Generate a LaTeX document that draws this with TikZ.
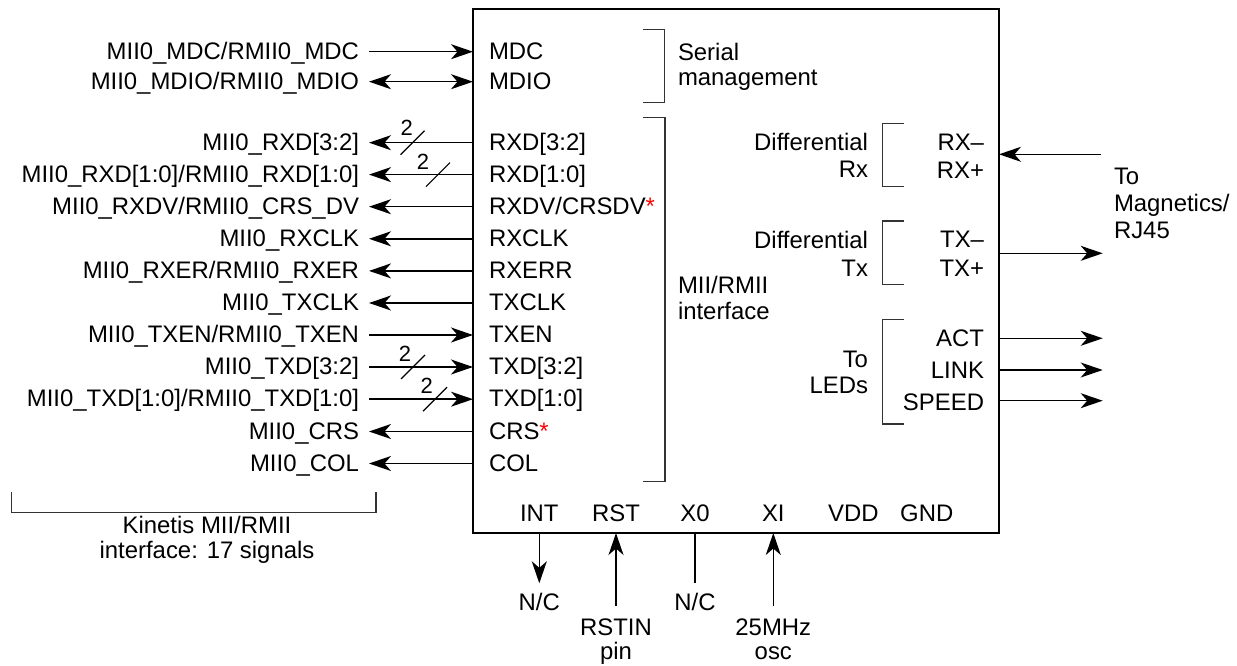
\documentclass[tikz,border=0pt]{standalone}
\usepackage{fontspec}
\setmainfont{Liberation Sans}
\usetikzlibrary{arrows.meta}
\begin{document}
\begin{tikzpicture}[x=1pt,y=-1pt,
  every node/.style={inner sep=0pt, outer sep=0pt},
  font=\fontsize{23.9}{26}\selectfont,
  >={Stealth[length=22pt,width=15pt,inset=6.5pt]},
  wire/.style={line width=1.5pt},
  brk/.style={line width=1.2pt, draw=black!80},
  lft/.style={anchor=east, text height=20pt, text depth=5pt},
  inr/.style={anchor=west, text height=20pt, text depth=5pt},
  bus/.style={line width=1.2pt},
  busn/.style={font=\fontsize{22}{24}\selectfont},
  ]
\useasboundingbox (0,0) rectangle (1237,666);
\node[draw, line width=2.6pt, minimum width=526pt, minimum height=524pt, anchor=north west] (chip) at (473,9) {};

% ---- left rows ----
\node[lft] (l1) at (359,51.7) {MII0\_MDC/RMII0\_MDC};
\node[inr] (i1) at (489,51.7) {MDC};
\draw[wire,->] ([xshift=10pt]l1.east) -- (chip.west |- l1.east);

\node[lft] (l2) at (359,81.7) {MII0\_MDIO/RMII0\_MDIO};
\node[inr] (i2) at (489,81.7) {MDIO};
\draw[wire,<->] ([xshift=10pt]l2.east) -- (chip.west |- l2.east);

\node[lft] (l3) at (359,142.7) {MII0\_RXD[3:2]};
\node[inr] (i3) at (489,142.7) {RXD[3:2]};
\draw[wire,<-] ([xshift=10pt]l3.east) -- (chip.west |- l3.east);
\draw[bus] (400.5,154.7) -- (424.5,130.7);
\node[busn] (n3) at (406.7,128.3) {2};

\node[lft] (l4) at (359,174.6) {MII0\_RXD[1:0]/RMII0\_RXD[1:0]};
\node[inr] (i4) at (489,174.6) {RXD[1:0]};
\draw[wire,<-] ([xshift=10pt]l4.east) -- (chip.west |- l4.east);
\draw[bus] (426,186.6) -- (450,162.6);
\node[busn] (n4) at (423,161.7) {2};

\node[lft] (l5) at (359,206.7) {MII0\_RXDV/RMII0\_CRS\_DV};
\node[inr] (i5) at (489,206.7) {RXDV/CRSDV{\color{red}*}};
\draw[wire,<-] ([xshift=10pt]l5.east) -- (chip.west |- l5.east);

\node[lft] (l6) at (359,238.8) {MII0\_RXCLK};
\node[inr] (i6) at (489,238.8) {RXCLK};
\draw[wire,<-] ([xshift=10pt]l6.east) -- (chip.west |- l6.east);

\node[lft] (l7) at (359,270.9) {MII0\_RXER/RMII0\_RXER};
\node[inr] (i7) at (489,270.9) {RXERR};
\draw[wire,<-] ([xshift=10pt]l7.east) -- (chip.west |- l7.east);

\node[lft] (l8) at (359,303) {MII0\_TXCLK};
\node[inr] (i8) at (489,303) {TXCLK};
\draw[wire,<-] ([xshift=10pt]l8.east) -- (chip.west |- l8.east);

\node[lft] (l9) at (359,335) {MII0\_TXEN/RMII0\_TXEN};
\node[inr] (i9) at (489,335) {TXEN};
\draw[wire,->] ([xshift=10pt]l9.east) -- (chip.west |- l9.east);

\node[lft] (l10) at (359,367) {MII0\_TXD[3:2]};
\node[inr] (i10) at (489,367) {TXD[3:2]};
\draw[wire,->] ([xshift=10pt]l10.east) -- (chip.west |- l10.east);
\draw[bus] (401,379) -- (425,355);
\node[busn] (n10) at (405,354) {2};

\node[lft] (l11) at (359,399.2) {MII0\_TXD[1:0]/RMII0\_TXD[1:0]};
\node[inr] (i11) at (489,399.2) {TXD[1:0]};
\draw[wire,->] ([xshift=10pt]l11.east) -- (chip.west |- l11.east);
\draw[bus] (423,411.2) -- (447,387.2);
\node[busn] (n11) at (426.7,386) {2};

\node[lft] (l12) at (359,431.5) {MII0\_CRS};
\node[inr] (i12) at (489,431.5) {CRS{\color{red}*}};
\draw[wire,<-] ([xshift=10pt]l12.east) -- (chip.west |- l12.east);

\node[lft] (l13) at (359,463.5) {MII0\_COL};
\node[inr] (i13) at (489,463.5) {COL};
\draw[wire,<-] ([xshift=10pt]l13.east) -- (chip.west |- l13.east);

% ---- left bracket ----
\draw[brk] (11.7,491.7) -- (11.7,512.7) -- (376,512.7) -- (376,491.7);
\node[anchor=base] (kin1) at (207,533.3) {Kinetis MII/RMII};
\node[anchor=base] (kin2) at (207,558.3) {interface: 17 signals};

% ---- inner brackets ----
\draw[brk] (642.7,29.3) -- (664.3,29.3) -- (664.3,102.7) -- (642.7,102.7);
\node[anchor=base west] (ser1) at (678,60.7) {Serial};
\node[anchor=base west] (ser2) at (678,85.3) {management};

\draw[brk] (642.7,117.7) -- (665,117.7) -- (665,481.7) -- (642.7,481.7);
\node[anchor=base west] (mii1) at (678,293.5) {MII/RMII};
\node[anchor=base west] (mii2) at (678,319) {interface};

% ---- right side ----
\draw[brk] (904,123.3) -- (882.7,123.3) -- (882.7,186.7) -- (904,186.7);
\node[anchor=base east] (dr1) at (868,150.7) {Differential};
\node[anchor=base east] (dr2) at (868,177.5) {Rx};
\node[anchor=base east] (rxm) at (984,150.7) {RX–};
\node[anchor=base east] (rxp) at (984,178.5) {RX+};

\draw[brk] (904,221) -- (882.7,221) -- (882.7,284.3) -- (904,284.3);
\node[anchor=base east] (dt1) at (868,248.3) {Differential};
\node[anchor=base east] (dt2) at (868,276) {Tx};
\node[anchor=base east] (txm) at (984,247.5) {TX–};
\node[anchor=base east] (txp) at (984,276.5) {TX+};

\draw[brk] (904,319.3) -- (882.7,319.3) -- (882.7,424) -- (904,424);
\node[anchor=base east] (led1) at (868,367.7) {To};
\node[anchor=base east] (led2) at (868,393.3) {LEDs};
\node[anchor=base east] (act) at (984,346.7) {ACT};
\node[anchor=base east] (link) at (984,378.7) {LINK};
\node[anchor=base east] (speed) at (984,410) {SPEED};

\node[anchor=base west] (mag1) at (1114,185) {To};
\node[anchor=base west] (mag2) at (1114,211.7) {Magnetics/};
\node[anchor=base west] (mag3) at (1114,238.3) {RJ45};

\coordinate (rxend) at (1101,154.3);
\coordinate (txend) at (1102.7,253.3);
\coordinate (actend) at (1102.7,338.3);
\coordinate (linkend) at (1102.7,370);
\coordinate (speedend) at (1102.7,400.7);
\draw[wire,->] (rxend) -- (chip.east |- rxend);
\draw[wire,->] (chip.east |- txend) -- (txend);
\draw[wire,->] (chip.east |- actend) -- (actend);
\draw[wire,->] (chip.east |- linkend) -- (linkend);
\draw[wire,->] (chip.east |- speedend) -- (speedend);

% ---- bottom ----
\node[anchor=base] (int) at (539.3,521) {INT};
\node[anchor=base] (rst) at (616,521) {RST};
\node[anchor=base] (xo) at (695,521) {X0};
\node[anchor=base] (xi) at (773.3,521) {XI};
\node[anchor=base] (vdd) at (853.3,521) {VDD};
\node[anchor=base] (gnd) at (926.7,521) {GND};

\node[anchor=base] (nc1) at (539.3,610.7) {N/C};
\node[anchor=base] (nc2) at (695,610.7) {N/C};
\node[anchor=base] (rsti1) at (616,635) {RSTIN};
\node[anchor=base] (rsti2) at (616,659) {pin};
\node[anchor=base] (osc1) at (773.3,635) {25MHz};
\node[anchor=base] (osc2) at (773.3,659) {osc};

\coordinate (intend) at (539.3,583.3);
\coordinate (rstend) at (616,606);
\coordinate (xoend) at (695,582.7);
\coordinate (xiend) at (773.3,606);
\draw[wire,->] (chip.south -| intend) -- (intend);
\draw[wire,->] (rstend) -- (chip.south -| rstend);
\draw[wire] (chip.south -| xoend) -- (xoend);
\draw[wire,->] (xiend) -- (chip.south -| xiend);
\end{tikzpicture}
\end{document}
